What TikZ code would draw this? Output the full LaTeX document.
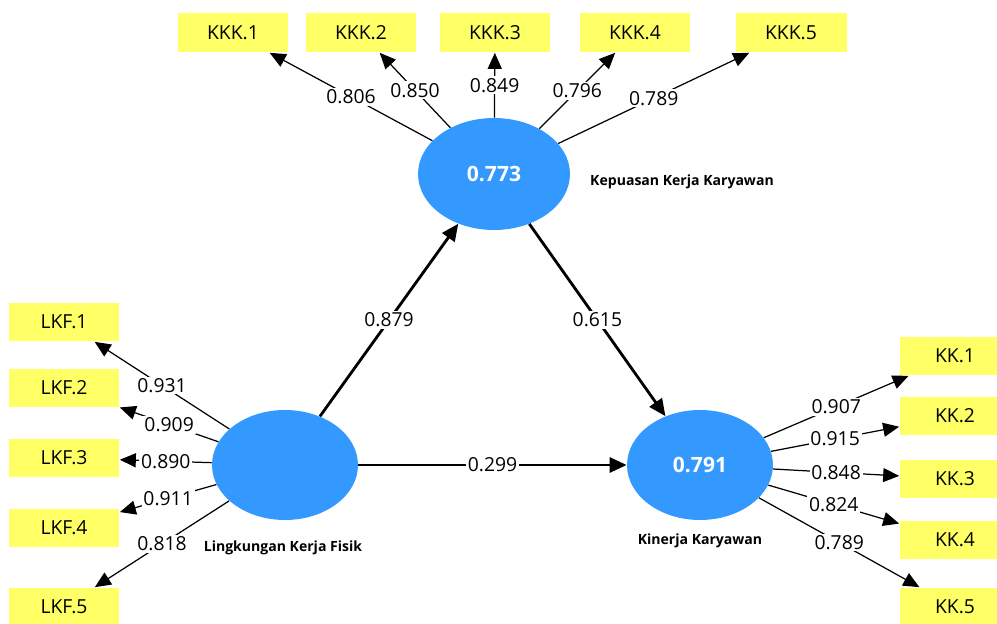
\documentclass[tikz,border=0pt]{standalone}
\usepackage{fontspec}
\setmainfont{Open Sans}
\usepackage{tikz}
\usetikzlibrary{arrows.meta,shapes.geometric}

\definecolor{latentblue}{RGB}{51,153,255}
\definecolor{indyellow}{RGB}{255,255,102}

\tikzset{
    latent/.style={ellipse, fill=latentblue, text=white, font=\fontsize{12}{14}\selectfont\bfseries, inner sep=0pt},
    indicator/.style={rectangle, fill=indyellow, minimum width=2.22cm, minimum height=0.78cm, inner sep=0pt, font=\fontsize{11}{13}\selectfont},
    loading/.style={-{Triangle[length=0.32cm,width=0.28cm]}, line width=0.7pt},
    structpath/.style={-{Triangle[length=0.34cm,width=0.3cm]}, line width=1.6pt},
    coef/.style={fill=white, inner sep=1pt, font=\fontsize{11}{13}\selectfont},
    latname/.style={font=\fontsize{8}{10}\selectfont\bfseries}
}

\begin{document}
\begin{tikzpicture}[x=0.02cm, y=-0.02cm]
    \useasboundingbox (0,0) rectangle (997,624);

    % latent variables
    \node[latent, minimum width=3.04cm, minimum height=2.24cm] (KKK) at (494,174) {0.773};
    \node[latent, minimum width=2.92cm, minimum height=2.2cm] (LKF) at (285,465) {};
    \node[latent, minimum width=2.92cm, minimum height=2.2cm] (KK) at (700,465) {0.791};

    \node[latname] (KKKname) at (682,182) {Kepuasan Kerja Karyawan};
    \node[latname] (LKFname) at (283,548) {Lingkungan Kerja Fisik};
    \node[latname] (KKname) at (700,541) {Kinerja Karyawan};

    % indicators
    \node[indicator] (KKK1) at (233,33) {KKK.1};
    \node[indicator] (KKK2) at (361,33) {KKK.2};
    \node[indicator] (KKK3) at (495,33) {KKK.3};
    \node[indicator] (KKK4) at (635,33) {KKK.4};
    \node[indicator] (KKK5) at (791,33) {KKK.5};

    \node[indicator] (LKF1) at (64,322) {LKF.1};
    \node[indicator] (LKF2) at (64,388) {LKF.2};
    \node[indicator] (LKF3) at (64,458) {LKF.3};
    \node[indicator] (LKF4) at (64,528) {LKF.4};
    \node[indicator] (LKF5) at (64,607) {LKF.5};

    \node[indicator] (KK1) at (955,356) {KK.1};
    \node[indicator] (KK2) at (955,416) {KK.2};
    \node[indicator] (KK3) at (955,479) {KK.3};
    \node[indicator] (KK4) at (955,540) {KK.4};
    \node[indicator] (KK5) at (955,607) {KK.5};

    % outer loadings
    \draw[loading] (KKK) -- (KKK1) node[midway, coef] {0.806};
    \draw[loading] (KKK) -- (KKK2) node[midway, coef] {0.850};
    \draw[loading] (KKK) -- (KKK3) node[midway, coef] {0.849};
    \draw[loading] (KKK) -- (KKK4) node[midway, coef] {0.796};
    \draw[loading] (KKK) -- (KKK5) node[midway, coef] {0.789};

    \draw[loading] (LKF) -- (LKF1) node[midway, coef] {0.931};
    \draw[loading] (LKF) -- (LKF2) node[midway, coef] {0.909};
    \draw[loading] (LKF) -- (LKF3) node[midway, coef] {0.890};
    \draw[loading] (LKF) -- (LKF4) node[midway, coef] {0.911};
    \draw[loading] (LKF) -- (LKF5) node[midway, coef] {0.818};

    \draw[loading] (KK) -- (KK1) node[midway, coef] {0.907};
    \draw[loading] (KK) -- (KK2) node[midway, coef] {0.915};
    \draw[loading] (KK) -- (KK3) node[midway, coef] {0.848};
    \draw[loading] (KK) -- (KK4) node[midway, coef] {0.824};
    \draw[loading] (KK) -- (KK5) node[midway, coef] {0.789};

    % path coefficients
    \draw[structpath] (LKF) -- (KKK) node[midway, coef] {0.879};
    \draw[structpath] (KKK) -- (KK) node[midway, coef] {0.615};
    \draw[structpath] (LKF) -- (KK) node[midway, coef] {0.299};

\end{tikzpicture}
\end{document}
